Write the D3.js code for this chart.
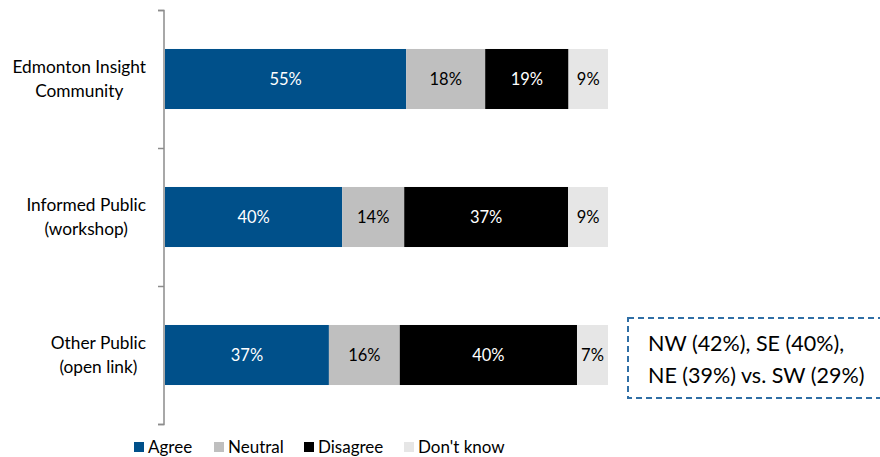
<!DOCTYPE html>
<html><head><meta charset="utf-8">
<script src="https://cdn.jsdelivr.net/npm/d3@7"></script>
<style>body{margin:0;background:#fff}svg{display:block}text{font-family:Lato,"Open Sans",sans-serif}</style>
</head><body><svg id="c" width="880" height="457"></svg>
<script>
const categories = [["Edmonton Insight","Community"],["Informed Public","(workshop)"],["Other Public","(open link)"]];
const seriesNames = ["Agree","Neutral","Disagree","Don't know"];
const agree = [55,40,37];
const neutral = [18,14,16];
const disagree = [19,37,40];
const dontKnow = [9,9,7];
const colors = ["#00508A","#BFBFBF","#000000","#E6E6E6"];
const labelColors = ["#fff","#000","#fff","#000"];

const svg = d3.select("#c");
const rows = categories.map((c,i)=>({key:i, Agree:agree[i], Neutral:neutral[i], Disagree:disagree[i], "Don't know":dontKnow[i]}));
const stack = d3.stack().keys(seriesNames).offset(d3.stackOffsetExpand)(rows);

const x = d3.scaleLinear().domain([0,1]).range([165,608]);
const y = d3.scaleBand().domain([0,1,2]).range([10,424]).paddingInner(0.565).paddingOuter(0.2825);

// axis
const axisG = svg.append("g").attr("transform","translate(164,0)");
const yAxisScale = d3.scaleLinear().domain([0,3]).range([10,424]);
axisG.call(d3.axisLeft(yAxisScale).tickValues([0,1,2,3]).tickSize(6).tickFormat(""));
axisG.selectAll("path,line").attr("stroke","#8c8c8c").attr("stroke-width",1.5);
axisG.select(".domain").attr("d","M-6,10.5H0V424.5H-6");

stack.forEach((s,si)=>{
  const g = svg.append("g");
  g.selectAll("rect").data(s).join("rect")
    .attr("x",d=>x(d[0])).attr("width",d=>x(d[1])-x(d[0]))
    .attr("y",(d,i)=>y(i)).attr("height",y.bandwidth())
    .attr("fill",colors[si]);
  g.selectAll("text").data(s).join("text")
    .attr("x",d=>(x(d[0])+x(d[1]))/2).attr("y",(d,i)=>y(i)+y.bandwidth()/2+6)
    .attr("text-anchor","middle").attr("fill",labelColors[si])
    .style("font-size","16.5px")
    .text((d,i)=>[agree,neutral,disagree,dontKnow][si][i]+"%");
});

// category labels
categories.forEach((lines,i)=>{
  const g = svg.append("g");
  const cy = y(i)+y.bandwidth()/2;
  const ts = lines.map((l,j)=>g.append("text").text(l)
      .style("font-size","17.3px")
      .attr("y",cy + (j-0.5)*24 + 6).attr("fill","#000"));
  const w = Math.max(...ts.map(t=>t.node().getComputedTextLength()));
  ts.forEach(t=>t.attr("x",146-w/2).attr("text-anchor","middle"));
});

// legend
const legX = [134,214,304,404];
seriesNames.forEach((n,i)=>{
  svg.append("rect").attr("x",legX[i]).attr("y",442).attr("width",10).attr("height",10).attr("fill",colors[i]);
  svg.append("text").attr("x",legX[i]+14).attr("y",453).text(n)
    .style("font-size","17px").attr("fill","#000");
});

// annotation
svg.append("rect").attr("x",628).attr("y",318).attr("width",262).attr("height",80)
  .attr("fill","none").attr("stroke","#2F6EA5").attr("stroke-width",2).attr("stroke-dasharray","6,4");
const ann = ["NW (42%), SE (40%),","NE (39%) vs. SW (29%)"];
ann.forEach((t,i)=>svg.append("text").attr("x",648).attr("y",351+i*32).text(t)
  .style("font-size","21.5px").attr("fill","#000"));
</script></body></html>
